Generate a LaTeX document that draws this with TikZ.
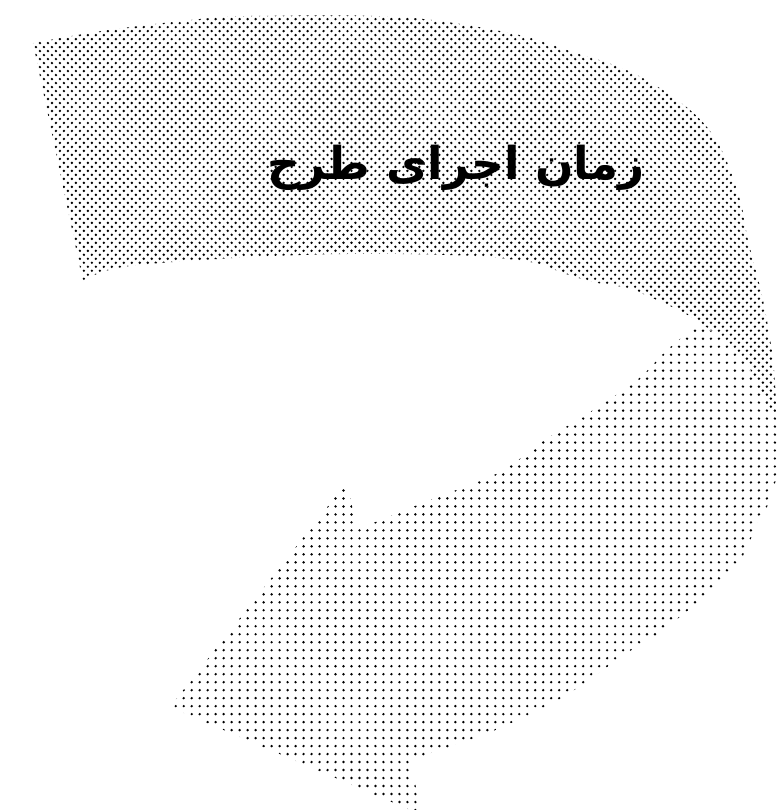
\documentclass[tikz,border=0pt]{standalone}
\usepackage{fontspec}
\newfontfamily\arabicfont[Script=Arabic]{DejaVu Sans}
\TeXXeTstate=1
\usetikzlibrary{patterns}

\begin{document}
\begin{tikzpicture}[
  x=0.0132cm, y=-0.0132cm,
  % fill styles
  backface/.style  = {pattern=crosshatch dots, pattern color=black},
  frontface/.style = {pattern=dots, pattern color=black},
  % text style
  title/.style = {font=\arabicfont\bfseries\fontsize{17}{20}\selectfont,
                  text=black, inner sep=0pt},
]

%% Canvas
\useasboundingbox[fill=white] (0,0) rectangle (780,810);
\clip (0,0) rectangle (780,810);

%% Upper band (back face of the ribbon)
\path[backface] (33,43)
  -- plot[smooth, tension=0.6] coordinates {(77,35) (123,28) (200,19) (250,16)
     (400,17) (510,33) (567,50) (633,73) (690,110) (720,147) (740,200)
     (748,240) (763,300) (773,360) (777,420)}
  -- plot[smooth, tension=0.6] coordinates {(757,383) (737,350) (700,323)}
  -- plot[smooth, tension=0.6] coordinates {(683,312) (650,297) (627,288)
     (593,282) (563,273) (530,262) (450,255) (300,255) (130,266) (83,282)}
  -- cycle;

%% Lower band with arrow head (front face)
\path[frontface] (170,707) -- (347,482) -- (357,530)
  -- plot[smooth, tension=0.6] coordinates {(373,523) (430,500) (500,472)
     (540,443) (590,412) (637,380) (667,350) (700,323)}
  -- plot[smooth, tension=0.6] coordinates {(737,350) (757,383) (777,420)}
  -- plot[smooth, tension=0.6] coordinates {(779,470) (767,507) (757,523)
     (740,560) (700,600) (660,632) (627,653) (563,697) (500,728) (460,743)
     (410,760)}
  -- (422,815) -- cycle;

%% Title
\node[title] (time) at (456,168) {\beginR زمان اجرای طرح\endR};

\end{tikzpicture}
\end{document}
